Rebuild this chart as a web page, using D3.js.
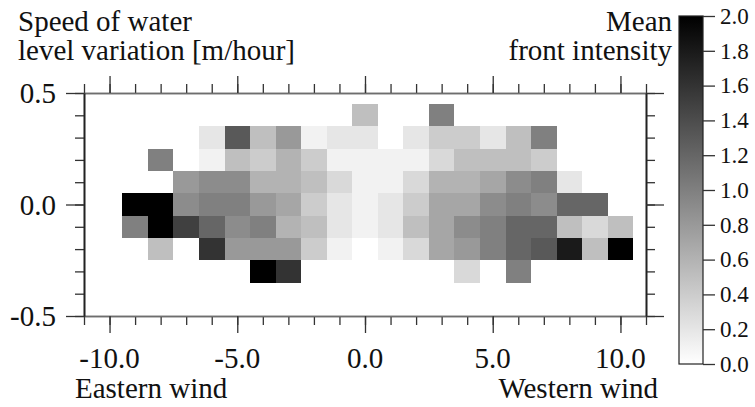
<!DOCTYPE html>
<html>
<head>
<meta charset="utf-8">
<script src="https://cdn.jsdelivr.net/npm/d3@7"></script>
<style>
  body { margin: 0; background: #fff; }
  text { font-family: "Liberation Serif", "Times New Roman", serif; fill: #111; }
</style>
</head>
<body>
<div id="chart"></div>
<script>
// Wind speed bins (x) and water level speed bins (y)
var windBins = [-9, -8, -7, -6, -5, -4, -3, -2, -1, 0, 1, 2, 3, 4, 5, 6, 7, 8, 9, 10];
var levelBins = [0.4, 0.3, 0.2, 0.1, 0.0, -0.1, -0.2, -0.3];

// Mean front intensity, one row per level bin, one column per wind bin (null = empty)
var row04  = [null, null, null, null, null, null, null, null, null, 0.5, null, null, 1.0, null, null, null, null, null, null, null];
var row03  = [null, null, null, 0.2, 1.3, 0.5, 0.8, 0.1, 0.2, 0.2, null, 0.2, 0.4, 0.4, 0.2, 0.5, 1.0, null, null, null];
var row02  = [null, 1.0, null, 0.1, 0.5, 0.4, 0.6, 0.4, 0.1, 0.1, 0.1, 0.1, 0.3, 0.5, 0.5, 0.5, 0.4, null, null, null];
var row01  = [null, null, 0.8, 0.9, 0.9, 0.6, 0.6, 0.5, 0.3, 0.1, 0.1, 0.3, 0.6, 0.6, 0.7, 0.9, 1.0, 0.2, null, null];
var row00  = [2.0, 2.0, 0.9, 1.0, 1.0, 0.8, 0.7, 0.4, 0.2, 0.1, 0.2, 0.4, 0.7, 0.7, 0.9, 1.0, 0.9, 1.2, 1.2, null];
var rowM01 = [1.0, 2.0, 1.5, 1.2, 0.9, 1.0, 0.6, 0.5, 0.2, 0.1, 0.2, 0.5, 0.7, 0.9, 1.0, 1.2, 1.2, 0.5, 0.3, 0.5];
var rowM02 = [null, 0.5, null, 1.6, 0.8, 0.8, 0.8, 0.4, 0.1, 0.0, 0.1, 0.3, 0.7, 0.8, 1.0, 1.2, 1.3, 1.8, 0.5, 2.0];
var rowM03 = [null, null, null, null, null, 2.0, 1.6, null, null, null, null, null, null, 0.3, null, 1.0, null, null, null, null];
var intensity = [row04, row03, row02, row01, row00, rowM01, rowM02, rowM03];

// Axis ticks
var xMajorTicks = [-10, -5, 0, 5, 10];
var yMajorTicks = [0.5, 0.0, -0.5];
var colorTicks = [0.0, 0.2, 0.4, 0.6, 0.8, 1.0, 1.2, 1.4, 1.6, 1.8, 2.0];

var svgWidth = 755;
var svgHeight = 407;

var plot = { left: 84, right: 646, top: 93, bottom: 316 };

var svg = d3.select("#chart")
  .append("svg")
  .attr("width", svgWidth)
  .attr("height", svgHeight);

var xScale = d3.scaleLinear().domain([-11, 11]).range([plot.left, plot.right]);
var yScale = d3.scaleLinear().domain([-0.5, 0.5]).range([plot.bottom, plot.top]);
var colorScale = d3.scaleLinear().domain([0, 2]).range(["#ffffff", "#000000"]);

// plain hyphen, one decimal
var fmt = d => d.toFixed(1);

// Flatten grid into cells
var cells = [];
levelBins.forEach(function (lv, i) {
  windBins.forEach(function (w, j) {
    var v = intensity[i][j];
    if (v !== null) cells.push({ x: w, y: lv, value: v });
  });
});

svg.append("g")
  .selectAll("rect")
  .data(cells)
  .join("rect")
  .attr("x", d => xScale(d.x - 0.5))
  .attr("y", d => yScale(d.y + 0.05))
  .attr("width", d => xScale(d.x + 0.5) - xScale(d.x - 0.5))
  .attr("height", d => yScale(d.y - 0.05) - yScale(d.y + 0.05))
  .attr("fill", d => colorScale(d.value))
  .attr("shape-rendering", "crispEdges");

// Minor ticks (every unit / every 0.1)
var xMinor = d3.range(-11, 12);
var yMinor = d3.range(-5, 6).map(d => d / 10);

function styleAxis(g, domainColor) {
  g.select(".domain").attr("stroke", domainColor).attr("stroke-width", 1.6);
  g.selectAll(".tick line").attr("stroke", "#333").attr("stroke-width", 1.3);
  g.selectAll("text").remove();
}

// minor then major, for each side
[[d3.axisTop, plot.top], [d3.axisBottom, plot.bottom]].forEach(function (a) {
  svg.append("g")
    .attr("transform", `translate(0, ${a[1]})`)
    .call(a[0](xScale).tickValues(xMinor).tickSize(9).tickSizeOuter(0))
    .call(g => styleAxis(g, "#6e6e6e"));
  svg.append("g")
    .attr("transform", `translate(0, ${a[1]})`)
    .call(a[0](xScale).tickValues(xMajorTicks).tickSize(17).tickSizeOuter(0))
    .call(g => styleAxis(g, "#6e6e6e"));
});

[[d3.axisLeft, plot.left], [d3.axisRight, plot.right]].forEach(function (a) {
  svg.append("g")
    .attr("transform", `translate(${a[1]}, 0)`)
    .call(a[0](yScale).tickValues(yMinor).tickSize(9).tickSizeOuter(0))
    .call(g => styleAxis(g, "#222"));
  svg.append("g")
    .attr("transform", `translate(${a[1]}, 0)`)
    .call(a[0](yScale).tickValues(yMajorTicks).tickSize(18).tickSizeOuter(0))
    .call(g => styleAxis(g, "#222"));
});

// Tick labels
svg.append("g").selectAll("text")
  .data(xMajorTicks)
  .join("text")
  .attr("x", d => xScale(d))
  .attr("y", 368)
  .attr("text-anchor", "middle")
  .attr("font-size", "29px")
  .text(fmt);

svg.append("g").selectAll("text")
  .data(yMajorTicks)
  .join("text")
  .attr("x", 56)
  .attr("y", d => yScale(d))
  .attr("dy", "0.35em")
  .attr("text-anchor", "end")
  .attr("font-size", "29px")
  .text(fmt);

// Titles
var titles = [
  { t: "Speed of water", x: 18, y: 31, anchor: "start" },
  { t: "level variation [m/hour]", x: 18, y: 60, anchor: "start" },
  { t: "Mean", x: 672, y: 31, anchor: "end" },
  { t: "front intensity", x: 672, y: 60, anchor: "end" },
  { t: "Eastern wind", x: 75, y: 398, anchor: "start" },
  { t: "Western wind", x: 658, y: 398, anchor: "end" }
];
svg.append("g").selectAll("text")
  .data(titles)
  .join("text")
  .attr("x", d => d.x)
  .attr("y", d => d.y)
  .attr("text-anchor", d => d.anchor)
  .attr("font-size", "29px")
  .text(d => d.t);

// Colour bar
var bar = { x: 679, w: 24, top: 16, bottom: 364 };
var cScale = d3.scaleLinear().domain([0, 2]).range([bar.bottom, bar.top]);

var grad = svg.append("defs").append("linearGradient")
  .attr("id", "grey")
  .attr("x1", 0).attr("y1", 1).attr("x2", 0).attr("y2", 0);
grad.append("stop").attr("offset", "0%").attr("stop-color", colorScale(0));
grad.append("stop").attr("offset", "100%").attr("stop-color", colorScale(2));

svg.append("rect")
  .attr("x", bar.x)
  .attr("y", bar.top)
  .attr("width", bar.w)
  .attr("height", bar.bottom - bar.top)
  .attr("fill", "url(#grey)")
  .attr("stroke", "#222")
  .attr("stroke-width", 1.2);

var cAxis = svg.append("g")
  .attr("transform", `translate(${bar.x + bar.w}, 0)`)
  .call(d3.axisRight(cScale).tickValues(colorTicks).tickSize(12).tickPadding(5).tickFormat(fmt));
cAxis.select(".domain").remove();
cAxis.selectAll(".tick line").attr("stroke", "#333").attr("stroke-width", 1.3);
cAxis.selectAll("text")
  .attr("font-size", "23px")
  .attr("font-family", "Liberation Serif")
  .attr("fill", "#111");
</script>
</body>
</html>
